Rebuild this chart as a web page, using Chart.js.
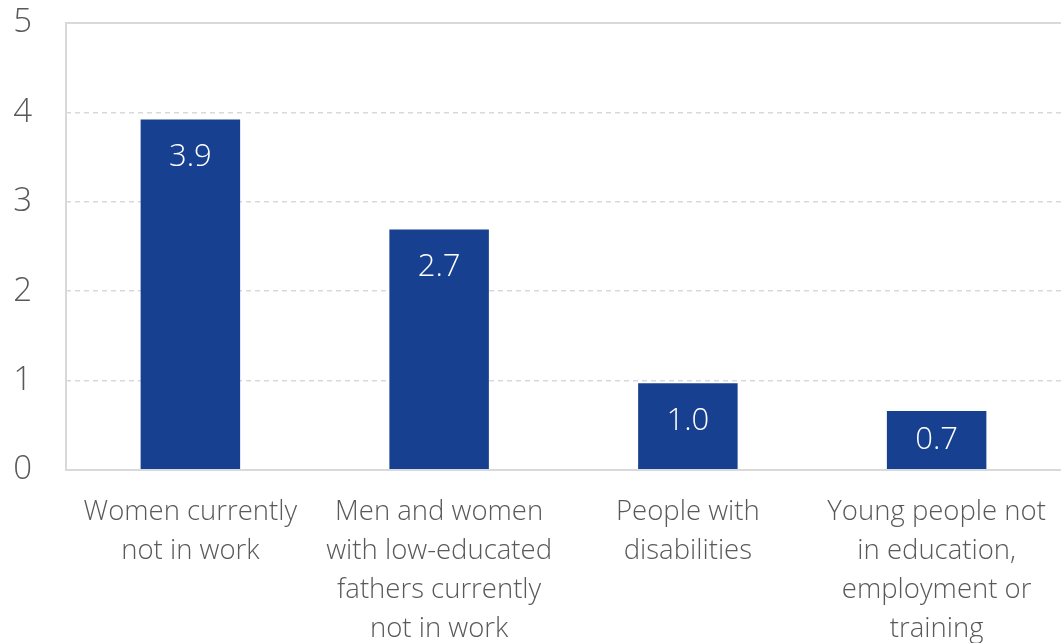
<!DOCTYPE html>
<html><head><meta charset="utf-8">
<script src="https://cdn.jsdelivr.net/npm/chart.js@4"></script>
<style>html,body{margin:0;padding:0;background:#fff}#wrap{width:1061px;height:643px;position:relative}</style>
</head><body><div id="wrap"><canvas id="c"></canvas></div>
<script>
const categories = [
  ["Women currently","not in work"],
  ["Men and women","with low-educated","fathers currently","not in work"],
  ["People with","disabilities"],
  ["Young people not","in education,","employment or","training"]
];
const values = [3.92, 2.69, 0.97, 0.66];
const yMin = 0, yMax = 5, yStep = 1;

const FONT = "'Open Sans'";
const frame = {
  id: 'frame',
  afterDatasetsDraw(chart) {
    const {ctx, chartArea: a} = chart;
    ctx.save();
    ctx.strokeStyle = '#d9d9d9';
    ctx.lineWidth = 2;
    ctx.beginPath();
    ctx.moveTo(a.right + 2, a.top); ctx.lineTo(a.left, a.top);
    ctx.lineTo(a.left, a.bottom); ctx.lineTo(a.right + 2, a.bottom);
    ctx.stroke();
    ctx.restore();
  },
  afterDraw(chart) {
    const {ctx} = chart;
    const meta = chart.getDatasetMeta(0);
    ctx.save();
    ctx.fillStyle = '#ffffff';
    ctx.font = '300 31px ' + FONT;
    ctx.textAlign = 'center';
    ctx.textBaseline = 'middle';
    meta.data.forEach((bar, i) => {
      const y = Math.min(bar.y + 38, (bar.y + bar.base) / 2);
      ctx.fillText(values[i].toFixed(1), bar.x, y);
    });
    ctx.restore();
  }
};

new Chart(document.getElementById('c'), {
  type: 'bar',
  data: {
    labels: categories,
    datasets: [{
      data: values,
      backgroundColor: '#174190',
      borderWidth: 0,
      barPercentage: 0.4,
      categoryPercentage: 1.0
    }]
  },
  options: {
    responsive: true,
    maintainAspectRatio: false,
    animation: false,
    layout: {padding: {top: 23, right: 0, left: 0, bottom: 0}},
    plugins: {legend: {display: false}, tooltip: {enabled: false}},
    scales: {
      x: {
        grid: {display: false, drawTicks: false},
        border: {display: false},
        ticks: {
          color: '#595959',
          font: {family: FONT, size: 27.5, weight: '300', lineHeight: 1.41},
          padding: 23,
          maxRotation: 0, autoSkip: false
        },
        afterFit: s => { s.height = 173; s.paddingLeft = 0; s.paddingRight = 0; }
      },
      y: {
        min: yMin, max: yMax,
        grid: {
          drawTicks: false,
          lineWidth: 1.5,
          color: c => (c.tick && c.tick.value > yMin && c.tick.value < yMax) ? '#d9d9d9' : 'rgba(0,0,0,0)'
        },
        border: {display: false, dash: [5, 4]},
        ticks: {
          stepSize: yStep,
          color: '#595959',
          font: {family: FONT, size: 33, weight: '300'},
          padding: 34
        },
        afterFit: s => { s.width = 66; s.paddingTop = 0; s.paddingBottom = 0; }
      }
    }
  },
  plugins: [frame]
});
</script>
</body></html>
